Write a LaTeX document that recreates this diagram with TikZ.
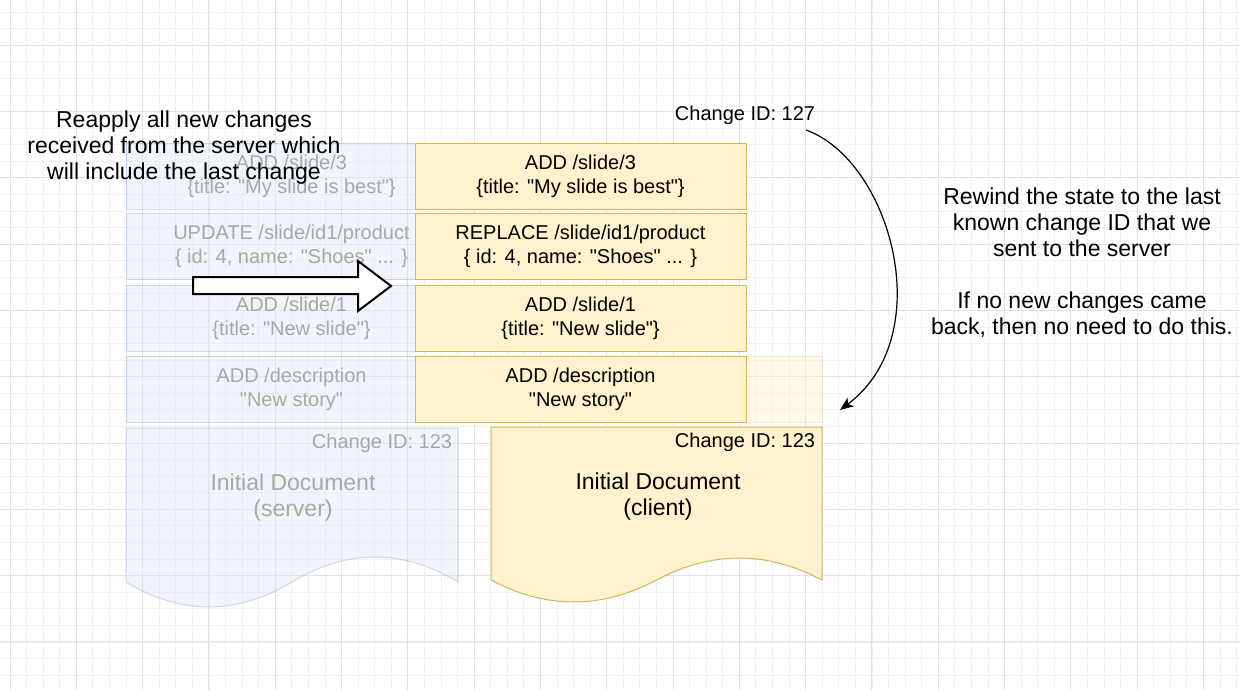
\documentclass[tikz,border=0pt]{standalone}
\usepackage{fontspec}
\setmainfont{Liberation Sans}[Ligatures=TeXOff]
\usetikzlibrary{arrows.meta}

\definecolor{clfill}{HTML}{FFF2CC}
\definecolor{cldraw}{HTML}{D6B656}
\definecolor{svfill}{HTML}{DDE6F5}
\definecolor{svdraw}{HTML}{6C8EBF}
\definecolor{fadetext}{HTML}{A8A8A8}
\definecolor{gridminor}{HTML}{F1F1F4}
\definecolor{gridmajor}{HTML}{E1E1E6}

\begin{document}
\begin{tikzpicture}[
    x=0.75pt, y=-0.75pt,
    txt/.style={font=\fontsize{15}{18}\selectfont, align=center, inner sep=0pt},
    bigtxt/.style={font=\fontsize{17.25}{19.5}\selectfont, align=center, inner sep=0pt},
    note/.style={txt, yshift=-2pt},
    bignote/.style={bigtxt, yshift=-2.5pt},
    clbox/.style={draw=cldraw, fill=clfill, line width=0.75pt,
                  minimum width=248.25pt, minimum height=49.5pt, txt},
    svbox/.style={draw=svdraw, draw opacity=0.3, fill=svfill, fill opacity=0.4,
                  text opacity=1, text=fadetext, line width=0.75pt,
                  minimum width=248.25pt, minimum height=49.5pt, txt},
    ghostbox/.style={draw=cldraw, draw opacity=0.25, fill=clfill, fill opacity=0.45,
                  line width=0.75pt, minimum width=248.25pt, minimum height=49.5pt},
    cldoc/.style={draw=cldraw, fill=clfill, line width=0.75pt},
    svdoc/.style={draw=svdraw, draw opacity=0.3, fill=svfill, fill opacity=0.4, line width=0.75pt},
    blockarrow/.style={draw=black, fill=white, line width=1.5pt, line join=miter},
    rewind/.style={-{Stealth[length=10pt, width=8pt, inset=2.5pt]}, line width=0.9pt}
]

%--------
% BACKGROUND GRID
%--------
\fill[white] (0,0) rectangle (1240,690);
\useasboundingbox (0,0) rectangle (1240,690);
\foreach \gx in {-6.575,10,...,1245} \draw[gridminor, line width=0.6pt] (\gx,0) -- (\gx,690);
\foreach \gy in {12.05,28.625,...,695} \draw[gridminor, line width=0.6pt] (0,\gy) -- (1240,\gy);
\foreach \gx in {10,76.3,...,1245} \draw[gridmajor, line width=0.75pt] (\gx,0) -- (\gx,690);
\foreach \gy in {45.2,111.5,...,695} \draw[gridmajor, line width=0.75pt] (0,\gy) -- (1240,\gy);

%--------
% SERVER COLUMN (faded)
%--------
\node[svbox] (sv1) at (291.5,176)   {ADD /slide/3\\\{title: "My slide is best"\}};
\node[svbox] (sv2) at (291.5,246.5) {UPDATE /slide/id1/product\\\{ id: 4, name: "Shoes" ... \}};
\node[svbox] (sv3) at (291.5,318)   {ADD /slide/1\\\{title: "New slide"\}};
\node[svbox] (sv4) at (291.5,389)   {ADD /description\\"New story"};

% server document
\draw[svdoc] (126,428) -- (458,428) -- (458,582)
    .. controls (402.7,548.7) and (347.3,548.7) .. (292,582)
    .. controls (236.7,615.3) and (181.3,615.3) .. (126,582) -- cycle;
\node[note, text=fadetext] (svid) at (382,441) {Change ID: 123};
\node[bignote, text=fadetext] (svdoc) at (293,494) {Initial Document\\(server)};

%--------
% CLIENT COLUMN
%--------
\node[ghostbox] (clghost) at (656.5,389) {};

\node[clbox] (cl1) at (580.5,176)   {ADD /slide/3\\\{title: "My slide is best"\}};
\node[clbox] (cl2) at (580.5,246.5) {REPLACE /slide/id1/product\\\{ id: 4, name: "Shoes" ... \}};
\node[clbox] (cl3) at (580.5,318)   {ADD /slide/1\\\{title: "New slide"\}};
\node[clbox] (cl4) at (580.5,389)   {ADD /description\\"New story"};

% client document
\draw[cldoc] (491,427) -- (822,427) -- (822,580)
    .. controls (766.8,550.7) and (711.7,550.7) .. (656.5,580)
    .. controls (601.3,609.3) and (546.2,609.3) .. (491,580) -- cycle;
\node[note] (clid) at (745,440) {Change ID: 123};
\node[bignote] (cldoc) at (658,493) {Initial Document\\(client)};

%--------
% REAPPLY ARROW AND NOTES
%--------
\draw[blockarrow] (193,277) -- (358,277) -- (358,261) -- (391,286)
    -- (358,311) -- (358,294) -- (193,294) -- cycle;

\node[bignote] (reapply) at (184,144)
    {Reapply all new changes\\received from the server which\\will include the last change};

\node[note] (cid127) at (745,113) {Change ID: 127};
\coordinate (rwstart) at (806,130);
\coordinate (rwend) at (840,410);
\draw[rewind] (rwstart) .. controls (890,160) and (940,335) .. (rwend);

\node[bignote] (rewindnote) at (1082,259)
    {Rewind the state to the last\\known change ID that we\\sent to the server\\[19.5pt]If no new changes came\\back, then no need to do this.};

\end{tikzpicture}
\end{document}
